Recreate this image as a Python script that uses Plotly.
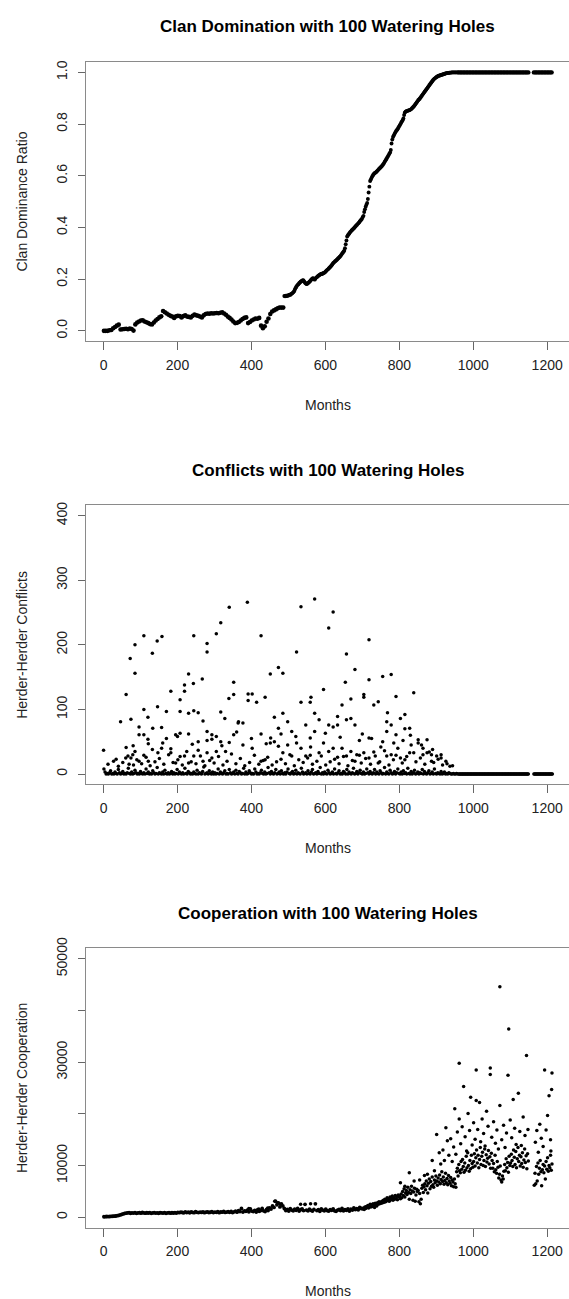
import plotly.graph_objects as go

# ---------------- Panel 1: clan dominance ratio ----------------
clan_months_a = list(range(1, 487, 5))          # months 1..486, every 5
clan_ratio_a = [
    0.0, 0.0, 0.0, 0.002, 0.003,
    0.01, 0.015, 0.02, 0.024,
    0.005, 0.006, 0.007, 0.008, 0.006, 0.009, 0.007, 0.001,
    0.025, 0.032, 0.036, 0.04, 0.041,
    0.036, 0.033, 0.03, 0.026, 0.025,
    0.032, 0.04, 0.046, 0.052, 0.056,
    0.077, 0.072, 0.067, 0.062, 0.058, 0.055,
    0.05, 0.056, 0.058, 0.057, 0.052, 0.057, 0.06, 0.055, 0.054, 0.052, 0.058, 0.063, 0.06, 0.058, 0.055, 0.052,
    0.06, 0.065, 0.067, 0.066, 0.068, 0.067, 0.068, 0.069, 0.068, 0.07, 0.072, 0.067,
    0.062, 0.055, 0.05, 0.044, 0.036, 0.03, 0.031, 0.034,
    0.04, 0.046, 0.05, 0.052, 0.03,
    0.034, 0.04, 0.044, 0.048, 0.047, 0.05,
    0.02, 0.01, 0.018,
    0.035, 0.048, 0.065, 0.075, 0.079, 0.083, 0.087, 0.09, 0.09, 0.09,
]
clan_months_b = list(range(489, 960, 2))        # months 489..959, every 2
clan_ratio_b = [
    0.135, 0.134, 0.136, 0.135, 0.137, 0.136, 0.138, 0.14, 0.139, 0.142, 0.144, 0.146, 0.149, 0.152,
    0.158, 0.165, 0.17, 0.174, 0.178, 0.18, 0.184, 0.187, 0.19, 0.192,
    0.194, 0.196, 0.195, 0.19, 0.186, 0.183, 0.181, 0.182, 0.185, 0.187,
    0.19, 0.193, 0.197, 0.2, 0.203, 0.204, 0.2, 0.198, 0.202, 0.206,
    0.208, 0.21, 0.213, 0.215, 0.217, 0.219, 0.221, 0.22, 0.222, 0.224,
    0.225, 0.227, 0.23, 0.233, 0.236, 0.238, 0.241, 0.244, 0.247, 0.25,
    0.254, 0.258, 0.262, 0.265, 0.267, 0.27, 0.272, 0.275, 0.278, 0.281,
    0.284, 0.287, 0.29, 0.294, 0.298, 0.302, 0.306, 0.31, 0.32, 0.335,
    0.35, 0.365, 0.37, 0.374, 0.378, 0.382, 0.385, 0.388, 0.391, 0.394,
    0.397, 0.4, 0.404, 0.407, 0.41, 0.413, 0.416, 0.419, 0.423, 0.427,
    0.43, 0.434, 0.44, 0.445, 0.46, 0.47, 0.48, 0.488, 0.495, 0.51,
    0.535, 0.558, 0.58, 0.586, 0.592, 0.598, 0.603, 0.607, 0.61, 0.612,
    0.614, 0.617, 0.62, 0.623, 0.626, 0.629, 0.632, 0.635, 0.638, 0.642,
    0.646, 0.65, 0.655, 0.66, 0.665, 0.67, 0.675, 0.68, 0.685, 0.69,
    0.7, 0.725, 0.74, 0.75, 0.756, 0.762, 0.767, 0.772, 0.776, 0.78,
    0.785, 0.79, 0.795, 0.80, 0.805, 0.81, 0.815, 0.822, 0.835, 0.845,
    0.848, 0.85, 0.851, 0.852, 0.853, 0.854, 0.855, 0.857, 0.859, 0.862,
    0.865, 0.868, 0.872, 0.876, 0.88, 0.884, 0.888, 0.892, 0.895, 0.898,
    0.902, 0.906, 0.91, 0.914, 0.918, 0.922, 0.926, 0.93, 0.934, 0.938,
    0.942, 0.946, 0.95, 0.954, 0.958, 0.962, 0.966, 0.97, 0.973, 0.976,
    0.978, 0.98, 0.982, 0.984, 0.986, 0.987, 0.988, 0.989, 0.99, 0.991,
    0.992, 0.993, 0.994, 0.995, 0.996, 0.997, 0.997, 0.998, 0.998, 0.999,
    0.999, 0.999, 1.0, 1.0, 1.0, 1.0, 1.0, 1.0, 1.0, 1.0,
    1.0, 1.0,
]
clan_months_c = list(range(961, 1150, 4)) + list(range(1164, 1215, 4))
clan_ratio_c = [
    1.0, 1.0, 1.0, 1.0, 1.0, 1.0, 1.0, 1.0, 1.0, 1.0, 1.0, 1.0,
    1.0, 1.0, 1.0, 1.0, 1.0, 1.0, 1.0, 1.0, 1.0, 1.0, 1.0, 1.0,
    1.0, 1.0, 1.0, 1.0, 1.0, 1.0, 1.0, 1.0, 1.0, 1.0, 1.0, 1.0,
    1.0, 1.0, 1.0, 1.0, 1.0, 1.0, 1.0, 1.0, 1.0, 1.0, 1.0, 1.0,
    1.0, 1.0, 1.0, 1.0, 1.0, 1.0, 1.0, 1.0, 1.0, 1.0, 1.0, 1.0, 1.0,
]

# ---------------- Panel 2: conflicts ----------------
conflict_base_months = list(range(1, 960, 3))
conflict_base = [
    8, 3, 0, 1, 0, 2, 5, 0, 1, 0, 3, 1, 0, 7, 2, 0, 1, 4, 0, 1,
    0, 2, 9, 1, 0, 3, 0, 1, 6, 2, 0, 1, 0, 4, 1, 0, 2, 0, 8, 1,
    3, 0, 1, 0, 5, 2, 0, 1, 10, 0, 2, 1, 0, 3, 0, 6, 1, 0, 2, 0,
    1, 4, 0, 2, 0, 1, 7, 0, 3, 1, 0, 2, 0, 9, 1, 0, 4, 2, 0, 1,
    0, 3, 1, 0, 6, 0, 2, 1, 0, 4, 11, 0, 1, 2, 0, 5, 1, 0, 3, 0,
    2, 0, 1, 8, 0, 3, 1, 0, 2, 5, 0, 1, 0, 7, 2, 0, 1, 3, 0, 6,
    1, 0, 4, 2, 0, 1, 9, 0, 3, 0, 1, 5, 2, 0, 1, 0, 8, 3, 0, 1,
    0, 2, 6, 1, 0, 3, 0, 1, 10, 2, 0, 4, 1, 0, 2, 7, 0, 1, 3, 0,
    5, 1, 0, 2, 0, 3, 8, 1, 0, 2, 4, 0, 1, 6, 0, 2, 1, 0, 9, 3,
    0, 1, 2, 0, 5, 1, 0, 3, 7, 0, 1, 2, 0, 4, 1, 10, 0, 2, 0, 3,
    1, 0, 6, 2, 0, 1, 3, 0, 8, 1, 0, 2, 5, 0, 1, 0, 4, 2, 0, 7,
    0, 3, 1, 0, 2, 9, 0, 1, 4, 0, 2, 6, 1, 0, 3, 0, 1, 8, 2, 0,
    4, 1, 0, 2, 7, 0, 3, 1, 0, 5, 2, 0, 1, 10, 0, 3, 1, 0, 6, 2,
    0, 1, 4, 0, 2, 8, 1, 0, 3, 0, 5, 1, 2, 0, 9, 1, 0, 4, 0, 2,
    6, 0, 1, 3, 0, 2, 1, 7, 0, 4, 1, 0, 2, 5, 0, 1, 3, 0, 8, 1,
    0, 2, 1, 0, 4, 0, 1, 3, 0, 1, 0, 2, 1, 0, 0, 1, 0, 0, 1, 0,
]
conflict_spike_months = [
    0, 34, 46, 61, 61, 60, 69, 72, 74, 74, 79, 85, 85, 85, 96, 96, 96, 109, 109, 109, 109,
    120, 121, 121, 132, 132, 133, 145, 146, 147, 158, 157, 157, 170, 170, 182, 182, 182, 195, 195,
    207, 207, 207, 207, 219, 219, 219, 230, 230, 230, 230,
    243, 244, 244, 244, 256, 256, 256, 267, 269, 269, 280, 280, 280, 280, 293, 293, 293,
    305, 305, 305, 317, 317, 317, 328, 330, 340, 339, 340, 352, 352, 352,
    364, 365, 377, 377, 389, 391, 391, 402, 402, 414, 426, 426, 426, 437, 437,
    451, 451, 452, 462, 462, 473, 473, 473, 485, 485, 485,
    498, 498, 509, 509, 522, 522, 534, 534, 534, 547, 547, 559, 561, 559, 559,
    571, 571, 571, 583, 583, 595, 595, 609, 609, 609,
    621, 621, 621, 633, 633, 633, 645, 645, 654, 657, 657, 657, 669, 669, 669,
    680, 680, 680, 692, 692, 704, 704, 704, 718, 718, 718, 718, 731, 731, 743, 743,
    755, 755, 766, 766, 766, 768, 778, 778, 778, 791, 791, 791, 803, 803, 815, 815, 815,
    828, 828, 839, 839, 851, 851, 864, 864, 875, 875, 887, 887, 901, 913, 913, 926, 937,
]
conflict_spike_values = [
    37, 23, 81, 123, 41, 25, 15, 179, 85, 25, 30, 200, 156, 35, 73, 61, 20, 214, 100, 61, 29,
    88, 47, 20, 187, 38, 71, 206, 104, 33, 213, 72, 40, 97, 55, 128, 39, 33, 61, 17,
    115, 97, 63, 27, 138, 128, 28, 155, 94, 62, 17,
    140, 214, 98, 28, 95, 50, 37, 147, 82, 20, 202, 189, 66, 33, 61, 54, 25,
    217, 58, 35, 234, 96, 50, 86, 35, 258, 117, 49, 142, 123, 61,
    79, 81, 79, 45, 266, 124, 114, 124, 40, 111, 214, 62, 20, 119, 22,
    155, 48, 56, 88, 50, 165, 71, 43, 156, 94, 33,
    81, 45, 66, 28, 189, 48, 259, 111, 40, 76, 28, 111, 119, 56, 29,
    271, 94, 66, 84, 33, 131, 48, 226, 76, 35,
    251, 73, 40, 89, 76, 26, 107, 40, 142, 186, 84, 28, 116, 86, 35,
    162, 76, 20, 52, 29, 123, 119, 33, 208, 146, 56, 25, 107, 34, 112, 17,
    151, 50, 81, 66, 28, 95, 154, 76, 30, 120, 61, 29, 86, 25, 92, 70, 22,
    71, 33, 126, 33, 48, 53, 40, 30, 53, 33, 30, 20, 28, 30, 25, 20, 12,
]
conflict_mid_months = [
    12, 27, 40, 52, 66, 81, 90, 103, 115, 126,
    139, 151, 163, 176, 188, 201, 213, 225, 237, 250,
    262, 274, 287, 299, 311, 323, 334, 346, 358, 370,
    382, 395, 408, 420, 432, 444, 456, 468, 480, 492,
    504, 516, 528, 540, 552, 565, 577, 589, 601, 613,
    625, 637, 649, 661, 673, 685, 697, 709, 722, 735,
    747, 760, 772, 784, 796, 808, 820, 832, 845, 857,
    869, 881, 893, 905, 917, 929, 944, 700, 725, 750,
    785, 810, 830, 860, 890, 640, 600, 560, 520, 480,
    440, 400, 360, 320, 280, 240, 200, 160, 120, 80,
]
conflict_mid_values = [
    15, 20, 12, 18, 28, 14, 22, 16, 26, 13,
    19, 24, 15, 30, 18, 22, 14, 35, 19, 16,
    28, 13, 21, 17, 27, 14, 20, 31, 16, 24,
    13, 18, 29, 15, 21, 26, 14, 19, 23, 16,
    30, 13, 22, 18, 25, 15, 20, 28, 14, 19,
    23, 16, 27, 13, 21, 30, 17, 24, 15, 28,
    19, 36, 14, 22, 40, 17, 27, 45, 19, 25,
    15, 34, 18, 23, 14, 16, 13, 62, 55, 42,
    48, 52, 60, 45, 38, 57, 63, 42, 58, 62,
    47, 55, 65, 44, 52, 46, 58, 48, 54, 44,
]
conflict_quiet_months = list(range(961, 1150, 2)) + list(range(1164, 1215, 2))
conflict_quiet = [0 for _ in conflict_quiet_months]   # flat at zero after month ~960

# ---------------- Panel 3: cooperation ----------------
coop_early_months = list(range(1, 698, 4))
coop_early = [
    100, 120, 150, 130, 150, 180, 200, 220, 250, 300, 350,
    450, 550, 650, 750, 800, 850, 900,
    780, 860, 820, 900, 760, 840, 880, 800, 920, 850, 790, 870, 830, 910, 770, 850,
    890, 810, 860, 780, 900, 840, 820, 880, 760, 850, 910, 800, 870, 830, 890, 810,
    950, 880, 1000, 920, 860, 1050, 900, 980, 870, 1020, 940, 890, 1080, 960, 910, 1000,
    930, 1060, 880, 990, 1040, 920, 970, 1100, 900, 1010, 950, 1070, 890, 1030, 980, 1120,
    940, 1000, 1090, 960, 1150, 910,
    1050, 1200, 980, 1300, 1100, 1700, 1000, 1250, 1150, 1400, 1050, 1600, 1200, 1100,
    1350, 1000, 1450, 1150, 1300, 1700, 1250, 1100,
    1500, 1300, 1800, 1600, 2200, 1900, 3100, 2400, 2800, 2000, 2600, 2200, 1700,
    1300, 1500, 1200, 1650, 1400, 1250, 1550, 1350, 1700, 1200, 1450, 1600, 1300,
    2500, 1400, 1250, 1550, 1350, 1200, 1500, 2600, 1300, 1450, 1150, 1600, 1400,
    1250, 1550, 1300, 1200, 1450, 1350, 1600, 1250, 1150, 1400, 1500, 1300, 1700,
    1250, 1450, 1350, 1600, 1200, 1550, 1400, 1800, 1500, 1650, 1450, 1900, 1700,
]
coop_late_months = list(range(701, 1150, 2)) + list(range(1165, 1214, 2))
coop_late = [
    1600, 1800, 1500, 2000, 1700, 2100, 1900, 2300, 1800, 2200, 2500, 2000, 2400, 2100, 2600, 2300, 1900, 2700, 2400, 2200, 2800, 2500, 3000, 2600, 2900,
    2700, 3100, 2800, 3300, 2900, 3500, 3000, 3400, 3800, 3200, 3600, 3100, 3900, 3400, 3700, 4100, 3300, 3800, 3500, 4200, 3600, 4000, 3400, 4300, 3900,
    4100, 3600, 4500, 3800, 5000, 4200, 5500, 3900, 4700, 5200, 4400, 5800, 4800, 3500, 5300, 4600, 6000, 5100, 3300, 4900, 5600, 3100, 4300, 5400, 5000,
    5200, 3000, 4600, 2600, 3500, 5600, 6200, 4800, 5900, 6500, 5300, 7000, 6100, 4700, 6600, 7400, 5500, 6900, 6000, 7800, 6300, 5800, 7200, 6700, 8000,
    7000, 6200, 7600, 6800, 8200, 6500, 7300, 8800, 6900, 7800, 6400, 7100, 8500, 6700, 7500, 6300, 8100, 7000, 6600, 7700, 6100, 7200, 6800, 5900, 7400,
    6500, 5800, 8800, 9500, 8000, 10200, 9000, 8600, 10800, 9300, 11200, 9800, 8700, 10500, 9100, 11800, 9600, 12500, 10000, 8900, 11000, 9400, 12000, 10400, 9700,
    10800, 12300, 9900, 11500, 13000, 10500, 12000, 9600, 11200, 13500, 10200, 11800, 12600, 10000, 11000, 13200, 9800, 12100, 10700, 11400, 12900, 10300, 11700, 9500, 12400,
    11000, 9500, 10400, 8800, 12000, 9200, 8500, 10800, 9700, 7600, 8300, 9900, 7200, 6800, 8000, 7400, 8900, 10200, 9000, 11300, 9600, 10600, 8700, 11800, 10000,
    10500, 12200, 11000, 9800, 13000, 11600, 10200, 12700, 9600, 11300, 13500, 10800, 12000, 9900, 11700, 10400, 12500, 9700, 11100, 13200, 10600, 11900, 9400, 12300, 10900,
    6200, 8500, 6500, 9800, 7000, 10500, 8300, 9500, 11000, 8800, 6100, 9200, 10200, 8600, 9900, 7400, 10800, 9300, 11500, 8900, 10000, 9600, 12000, 9100, 10300,
]
coop_extra_months = [
    393, 420, 444, 463, 470, 478, 533, 560,
    803, 815, 827, 840, 855, 868, 876, 889, 895, 901, 908, 912, 918, 922, 926, 930, 934, 939,
    943, 947, 950, 953, 957, 962, 962, 966, 970, 974, 978, 982, 986, 990, 993, 997,
    1001, 1005, 1008, 1008, 1012, 1017, 1020, 1024, 1028, 1032, 1036, 1040, 1046, 1046,
    1050, 1055, 1060, 1064, 1068, 1072, 1072, 1077, 1082, 1086, 1090, 1094, 1096, 1100,
    1104, 1108, 1112, 1116, 1122, 1126, 1130, 1135, 1140, 1144, 1148,
    1168, 1172, 1176, 1180, 1184, 1189, 1193, 1197, 1201, 1205, 1209, 1212, 1213, 1210,
]
coop_extra = [
    1700, 1600, 1800, 3100, 2800, 2500, 2500, 2600,
    6700, 6000, 8600, 7000, 7200, 8100, 8300, 11000, 9000, 16000, 12500, 10300, 13000, 11000, 17300, 14800, 12000, 15200,
    10800, 13600, 21000, 12200, 16500, 29800, 19000, 14200, 17500, 25300, 15600, 12800, 20100, 16800, 23200, 14000,
    18300, 15100, 28500, 22600, 17000, 22200, 14600, 19000, 16200, 13800, 20500, 17600, 28900, 27600,
    15500, 18500, 14300, 16900, 13200, 44600, 21600, 15000, 17800, 13500, 16300, 27500, 36400, 18800,
    15400, 22800, 17200, 14100, 24000, 16600, 13900, 19400, 15800, 31300, 17000,
    14500, 16800, 12600, 18000, 15300, 13700, 28500, 16900, 19700, 23500, 15000, 24700, 27900, 12800,
]

pairs = [
    (clan_months_a, clan_ratio_a), (clan_months_b, clan_ratio_b), (clan_months_c, clan_ratio_c),
    (conflict_base_months, conflict_base), (conflict_spike_months, conflict_spike_values),
    (conflict_mid_months, conflict_mid_values), (coop_early_months, coop_early),
    (coop_late_months, coop_late), (coop_extra_months, coop_extra),
]
for i, (a, b) in enumerate(pairs):
    assert len(a) == len(b), (i, len(a), len(b))

W, H = 569, 1299
FONT = "Liberation Sans, Arial, sans-serif"
TXT = "#222222"
FRAME = "#8a8a8a"
TICK = "#666666"

panels = [(51.5, 333.0), (498.5, 780.0), (945.5, 1227.0)]
x_left_px = 86.0


def py(v):
    return 1 - v / H


fig = go.Figure()


def add(xs, ys, ax, size):
    fig.add_trace(go.Scatter(x=xs, y=ys, mode="markers", xaxis="x" + ax, yaxis="y" + ax, hoverinfo="skip",
                             marker=dict(size=size, color="black", line=dict(width=0))))


add(clan_months_a, clan_ratio_a, "", 4.6)
add(clan_months_b, clan_ratio_b, "", 3.9)
add(clan_months_c, clan_ratio_c, "", 4.4)
add(conflict_base_months, conflict_base, "2", 3.5)
add(conflict_quiet_months, conflict_quiet, "2", 3.5)
add(conflict_mid_months, conflict_mid_values, "2", 3.5)
add(conflict_spike_months, conflict_spike_values, "2", 3.5)
add(coop_early_months, coop_early, "3", 3.8)
add(coop_late_months, coop_late, "3", 3.5)
add(coop_extra_months, coop_extra, "3", 3.5)

x_ticks = [0, 200, 400, 600, 800, 1000, 1200]
y_specs = [
    ([-0.04, 1.04], [0, 0.2, 0.4, 0.6, 0.8, 1.0], ["0.0", "0.2", "0.4", "0.6", "0.8", "1.0"]),
    ([-16, 416], [0, 100, 200, 300, 400], ["0", "100", "200", "300", "400"]),
    ([-2000, 52000], [0, 10000, 20000, 30000, 40000, 50000], ["0", "10000", "", "30000", "", "50000"]),
]
titles = ["Clan Domination with 100 Watering Holes", "Conflicts with 100 Watering Holes",
          "Cooperation with 100 Watering Holes"]
ylabels = ["Clan Dominance Ratio", "Herder-Herder Conflicts", "Herder-Herder Cooperation"]

layout = dict(width=W, height=H, margin=dict(l=0, r=0, t=0, b=0), showlegend=False,
              plot_bgcolor="white", paper_bgcolor="white", font=dict(family=FONT, color=TXT, size=14))
annotations = []
for i, ((top, bot), (yr, yv, yt)) in enumerate(zip(panels, y_specs)):
    sfx = "" if i == 0 else str(i + 1)
    layout["xaxis" + sfx] = dict(
        domain=[x_left_px / W, 1.0], range=[-47.5, 1259], anchor="y" + sfx,
        tickvals=x_ticks, ticktext=[str(t) for t in x_ticks], ticks="outside", ticklen=8,
        tickcolor=TICK, tickwidth=1, showline=True, linecolor=FRAME, linewidth=1, mirror=True,
        showgrid=False, zeroline=False, tickfont=dict(size=14, color=TXT), ticklabelstandoff=3)
    layout["yaxis" + sfx] = dict(
        domain=[py(bot), py(top)], range=yr, anchor="x" + sfx,
        tickvals=yv, ticktext=yt, ticks="outside", ticklen=7, tickcolor=TICK, tickwidth=1,
        showline=True, linecolor=FRAME, linewidth=1, showgrid=False, zeroline=False,
        tickangle=-90, tickfont=dict(size=14, color=TXT), ticklabelstandoff=5)
    cx = (x_left_px + W) / 2 / W
    annotations.append(dict(text="<b>" + titles[i] + "</b>", x=cx, y=py(top - 35.5), xref="paper", yref="paper",
                            showarrow=False, font=dict(size=17, color="black", family=FONT),
                            xanchor="center", yanchor="middle"))
    annotations.append(dict(text="Months", x=cx, y=py(bot + 64), xref="paper", yref="paper",
                            showarrow=False, font=dict(size=14, color=TXT, family=FONT),
                            xanchor="center", yanchor="middle"))
    annotations.append(dict(text=ylabels[i], x=22 / W, y=py((top + bot) / 2), xref="paper", yref="paper",
                            showarrow=False, textangle=-90, font=dict(size=14, color=TXT, family=FONT),
                            xanchor="center", yanchor="middle"))
layout["annotations"] = annotations
fig.update_layout(**layout)
fig.write_html("out.html")
